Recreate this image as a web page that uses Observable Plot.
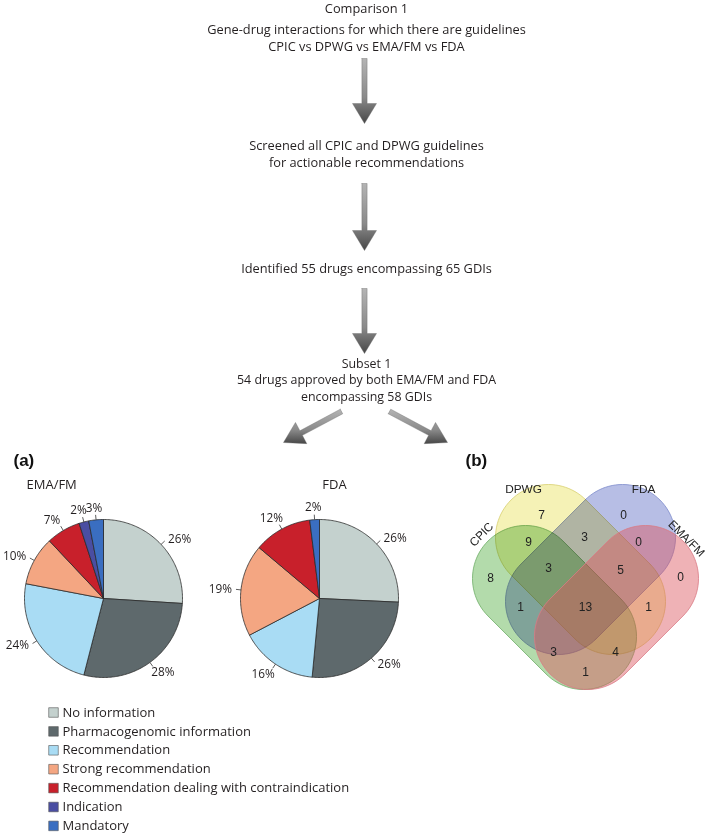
<!DOCTYPE html>
<html><head><meta charset="utf-8">
<script src="https://cdn.jsdelivr.net/npm/d3@7"></script>
<script src="https://cdn.jsdelivr.net/npm/@observablehq/plot@0.6"></script>
<style>html,body{margin:0;padding:0;background:#fff}svg{display:block}</style>
</head><body><div id="chart"></div>
<script>
// ---------------- data ----------------
const categories = ["No information","Pharmacogenomic information","Recommendation","Strong recommendation","Recommendation dealing with contraindication","Indication","Mandatory"];
const categoryColors = ["#c4d1ce","#5e696c","#a9dcf4","#f4a682","#c8202b","#4a4ea2","#3a6ec1"];
const emaValues = [26,28,24,10,7,2,3];
const fdaValues = [26,26,16,19,12,0,2];
const pieTitles = ["EMA/FM","FDA"];
const panelLabels = ["(a)","(b)"];
const flowLines = ["Comparison 1","Gene-drug interactions for which there are guidelines","CPIC vs DPWG vs EMA/FM vs FDA","Screened all CPIC and DPWG guidelines","for actionable recommendations","Identified 55 drugs encompassing 65 GDIs","Subset 1","54 drugs approved by both EMA/FM and FDA","encompassing 58 GDIs"];
const vennSets = ["CPIC","DPWG","FDA","EMA/FM"];
const vennColors = ["#b3dbab","#f5f2b6","#b7bee5","#dc545e"];
const vennStrokes = ["#6fae68","#d8cf70","#7e8ccc","#d97a84"];
const vennBlend = ["multiply","multiply","multiply","normal"];
const vennFillOpacity = [1,1,1,0.45];
const vennRegions = ["C","D","F","E","CD","DF","FE","CF","CDF","DFE","DE","CDFE","CFE","CDE","CE"];
const vennCounts = [8,7,0,0,9,3,0,1,3,5,1,13,3,4,1];

// ---------------- layout ----------------
const W = 709, H = 834;
const layout = {
  flowX: 366,
  flowY: [8,29.5,46,145,162,268,363.5,380,396.5],
  flowSize: [12.8,12.8,12.8,12.8,12.8,12.8,12.4,12.4,12.4],
  arrows: [[364,58,364,123],[364,183,364,250],[364,288,364,353],[341,411,283,442],[389,411,447,442]],
  shaftHalf: 2.6, headHalf: 12, headLen: 20,
  pies: [{cx:103, cy:598, r:79, tx:26, ty:484, anchor:"start"}, {cx:319, cy:598, r:79, tx:334, ty:484, anchor:"middle"}],
  panels: [[13,460],[465,460]],
  legend: {x:53, tx:62, y0:712, dy:18.9},
  venn: {
    r: 53,
    caps: [[[525,578],[583,636]], [[548,537],[612,601]], [[622,537],[558,601]], [[645,578],[587,636]]],
    labels: [[481,534,-45],[523,489,0],[643,489,0],[686,538,45]],
    regionPos: {C:[490,578],D:[541,515],F:[623,515],E:[680,577],CD:[528,542],DF:[584,537],FE:[638,542],CF:[520,607],CDF:[548,568],DFE:[620,570],DE:[648,607],CDFE:[585,607],CFE:[553,652],CDE:[615,652],CE:[585,672]}
  }
};
const FLOW_FONT = "'Open Sans', 'Noto Sans', sans-serif";
const ARIAL = "'Liberation Sans', Arial, sans-serif";
const TEXT = "#231f20";

// ---------------- derived geometry ----------------
const arrowPts = [];
layout.arrows.forEach(([x1,y1,x2,y2], i) => {
  const len = Math.hypot(x2-x1, y2-y1), ux = (x2-x1)/len, uy = (y2-y1)/len, px = -uy, py = ux;
  const s = layout.shaftHalf, h = layout.headHalf, bx = x2 - ux*layout.headLen, by = y2 - uy*layout.headLen;
  const pts = [[x1+px*s,y1+py*s],[bx+px*s,by+py*s],[bx+px*h,by+py*h],[x2,y2],[bx-px*h,by-py*h],[bx-px*s,by-py*s],[x1-px*s,y1-py*s],[x1+px*s,y1+py*s]];
  pts.forEach(([x,y]) => arrowPts.push({k:i, x, y}));
});

const slicePts = [], pieTicks = [], pieLabels = [];
[emaValues, fdaValues].forEach((values, pi) => {
  const p = layout.pies[pi];
  const total = d3.sum(values);
  let acc = 0;
  values.forEach((v, i) => {
    const a0 = acc/total*2*Math.PI; acc += v; const a1 = acc/total*2*Math.PI;
    if (v <= 0) return;
    const key = pi + "-" + i, color = categoryColors[i];
    slicePts.push({key, x:p.cx, y:p.cy, color});
    const n = Math.max(2, Math.ceil((a1-a0)/(Math.PI/180)));
    for (let k = 0; k <= n; k++) {
      const a = a0 + (a1-a0)*k/n;
      slicePts.push({key, x:p.cx + p.r*Math.sin(a), y:p.cy - p.r*Math.cos(a), color});
    }
    slicePts.push({key, x:p.cx, y:p.cy, color});
    const am = (a0+a1)/2, s = Math.sin(am), c = Math.cos(am);
    pieTicks.push({x1:p.cx + p.r*s, y1:p.cy - p.r*c, x2:p.cx + (p.r+5)*s, y2:p.cy - (p.r+5)*c});
    let anchor, R, xx;
    if (Math.abs(s) >= 0.6) { anchor = s > 0 ? "start" : "end"; R = p.r + 8; xx = p.cx + R*s + (s > 0 ? 1 : -1); }
    else { anchor = "middle"; R = p.r + 12; xx = p.cx + (R+10)*s; }
    pieLabels.push({x:xx, y:p.cy - R*c, text: v + "%", anchor});
  });
});

const vennPolys = vennSets.map((name, si) => {
  const [p1, p2] = layout.venn.caps[si], r = layout.venn.r;
  const ang = Math.atan2(p2[1]-p1[1], p2[0]-p1[0]);
  const n = 48, pts = [];
  for (let k = 0; k <= n; k++) { const a = ang - Math.PI/2 + Math.PI*k/n; pts.push([p2[0]+r*Math.cos(a), p2[1]+r*Math.sin(a)]); }
  for (let k = 0; k <= n; k++) { const a = ang + Math.PI/2 + Math.PI*k/n; pts.push([p1[0]+r*Math.cos(a), p1[1]+r*Math.sin(a)]); }
  pts.push(pts[0]);
  return pts.map(([x,y]) => ({set:name, x, y}));
});
const vennLabelData = vennSets.map((name, i) => ({text:name, x:layout.venn.labels[i][0], y:layout.venn.labels[i][1], rotate:layout.venn.labels[i][2]}));
const vennCountData = vennRegions.map((reg, i) => ({text:String(vennCounts[i]), x:layout.venn.regionPos[reg][0], y:layout.venn.regionPos[reg][1]}));

const flowData = flowLines.map((t, i) => ({text:t, x:layout.flowX, y:layout.flowY[i], size:layout.flowSize[i]}));
const legendData = categories.map((c, i) => ({text:c, color:categoryColors[i], x:layout.legend.x, tx:layout.legend.tx, y:layout.legend.y0 + i*layout.legend.dy}));

const chart = Plot.plot({
  width: W, height: H, margin: 0,
  x: {domain:[0,W], range:[0,W], axis:null},
  y: {domain:[0,H], range:[0,H], axis:null},
  color: {type:"identity"},
  style: {background:"#fff", color:TEXT},
  marks: [
    // flow chart
    Plot.text(flowData.filter(d=>d.size===12.8), {x:"x", y:"y", text:"text", fontSize:12.8, fontFamily:FLOW_FONT, fill:TEXT}),
    Plot.text(flowData.filter(d=>d.size!==12.8), {x:"x", y:"y", text:"text", fontSize:12.4, fontFamily:FLOW_FONT, fill:TEXT}),
    Plot.line(arrowPts, {x:"x", y:"y", z:"k", fill:"url(#arrowGrad)", stroke:"#6a6a6a", strokeWidth:0.4, curve:"linear"}),
    // panel labels
    Plot.text(panelLabels, {x:(d,i)=>layout.panels[i][0], y:(d,i)=>layout.panels[i][1], text:d=>d, textAnchor:"start", fontSize:17, fontWeight:"bold", fontFamily:ARIAL, fill:"#111"}),
    // pies
    Plot.text(pieTitles, {x:(d,i)=>layout.pies[i].tx, y:(d,i)=>layout.pies[i].ty, text:d=>d, textAnchor:"start", filter:(d,i)=>layout.pies[i].anchor==="start", fontSize:13, fontFamily:FLOW_FONT, fill:TEXT}),
    Plot.text(pieTitles, {x:(d,i)=>layout.pies[i].tx, y:(d,i)=>layout.pies[i].ty, text:d=>d, textAnchor:"middle", filter:(d,i)=>layout.pies[i].anchor==="middle", fontSize:13, fontFamily:FLOW_FONT, fill:TEXT}),
    Plot.line(slicePts, {x:"x", y:"y", z:"key", fill:"color", stroke:"#2b2b2b", strokeWidth:0.8, strokeLinejoin:"round", curve:"linear"}),
    Plot.link(pieTicks, {x1:"x1", y1:"y1", x2:"x2", y2:"y2", stroke:"#333", strokeWidth:0.8}),
    Plot.text(pieLabels.filter(d=>d.anchor==="start"), {x:"x", y:"y", text:"text", textAnchor:"start", fontSize:11.8, fontFamily:FLOW_FONT, fill:TEXT}),
    Plot.text(pieLabels.filter(d=>d.anchor==="end"), {x:"x", y:"y", text:"text", textAnchor:"end", fontSize:11.8, fontFamily:FLOW_FONT, fill:TEXT}),
    Plot.text(pieLabels.filter(d=>d.anchor==="middle"), {x:"x", y:"y", text:"text", textAnchor:"middle", fontSize:11.8, fontFamily:FLOW_FONT, fill:TEXT}),
    // legend
    Plot.dot(legendData, {x:"x", y:"y", symbol:"square", r:5.4, fill:"color", stroke:"#555", strokeWidth:0.6}),
    Plot.text(legendData, {x:"tx", y:"y", text:"text", textAnchor:"start", fontSize:13, fontFamily:FLOW_FONT, fill:TEXT}),
    // venn stadiums
    ...vennPolys.map((pts, i) => Plot.line(pts, {x:"x", y:"y", fill:vennColors[i], fillOpacity:vennFillOpacity[i], stroke:vennStrokes[i], strokeWidth:1, strokeOpacity:0.8, curve:"linear", mixBlendMode:vennBlend[i]})),
    Plot.text(vennLabelData, {x:"x", y:"y", text:"text", rotate:"rotate", fontSize:11.8, fontFamily:ARIAL, fill:"#222"}),
    Plot.text(vennCountData, {x:"x", y:"y", text:"text", fontSize:12, fontFamily:ARIAL, fill:"#222"})
  ]
});

// gradient definition used by the arrows
const defs = d3.select(chart).insert("defs", ":first-child");
const g = defs.append("linearGradient").attr("id","arrowGrad").attr("x1",0).attr("y1",0).attr("x2",0).attr("y2",1);
g.append("stop").attr("offset","0%").attr("stop-color","#b4b4b4");
g.append("stop").attr("offset","60%").attr("stop-color","#8a8a8a");
g.append("stop").attr("offset","100%").attr("stop-color","#474747");

document.getElementById("chart").append(chart);
</script>
</body></html>
